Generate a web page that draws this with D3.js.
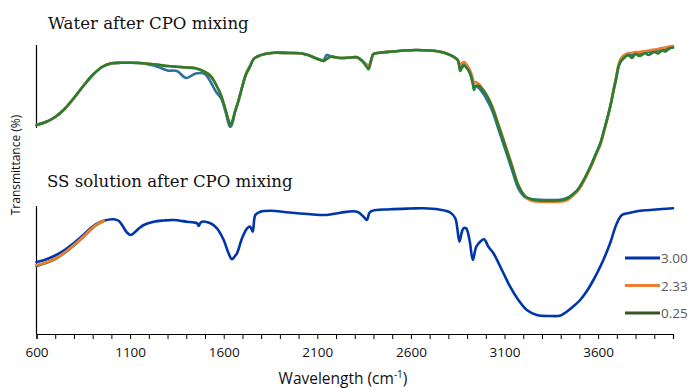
<!DOCTYPE html>
<html><head><meta charset="utf-8">
<script src="https://cdn.jsdelivr.net/npm/d3@7"></script>
<style>body{margin:0;background:#fff}svg{display:block}</style>
</head><body><svg id="c" width="691" height="388"></svg>
<script>
// ---- data (arbitrary transmittance units, offset per panel) ----
const xTicks = [600,1100,1600,2100,2600,3100,3600];
const legendLabels = ["3.00","2.33","0.25"];
const titleTop = "Water after CPO mixing";
const titleBottom = "SS solution after CPO mixing";

const upperWn = [600,650,700,750,800,850,900,950,1000,1050,1100,1150,1200,1250,1300,1350,1400,1450,1500,1530,1560,1585,1610,1625,1635,1645,1660,1680,1700,1720,1740,1760,1780,1820,1870,1950,2010,2050,2080,2110,2134,2150,2170,2220,2280,2312,2340,2360,2374,2388,2400,2450,2490,2560,2630,2700,2756,2790,2827,2850,2863,2872,2885,2899,2915,2930,2937,2945,2963,2980,2998,3033,3069,3105,3140,3176,3212,3240,3265,3318,3407,3440,3460,3490,3513,3540,3567,3590,3612,3635,3656,3670,3683,3697,3709,3722,3736,3750,3763,3780,3800,3820,3852,3870,3900,3920,3940,3960,3980,4000];
const upperGreen = [209,212,217,225,236,248,259,267,270.7,271.2,271.3,271,270.2,269.2,268,267.2,266.5,265.7,262,258,249,239,224,214,209,212,222,234,248,260,267.3,275,277.5,280,281.3,281,280.7,279,276.7,274.5,273,275,277.3,276,276.5,276.7,273,268,264.7,274,280,281.5,282.3,283.5,284,283.5,282.3,280.5,277.3,274,263,266,268.5,265.7,261,251,244,248,248,245,240.7,227.3,207.3,187.3,167.3,147.3,137.5,135,134,133.3,134,136,139,144,150.7,160,170.7,181,190.7,206,220.7,232,244,256,267.3,273,275.7,278,279,276,280,278,280.7,279,282,280.5,283.3,282.5,285.5,286.5];
const upperOrange = [209,212,217,225,236,248,259,267,270.7,271.2,271.3,271,270.2,269.2,268,267.2,266.5,265.7,262,258,249,239,224,214,209,212,222,234,248,261,268,275,277.5,280,281.3,281,280.7,279,276.7,274.5,273,275,277.3,276,276.5,276.7,273,270,268.5,274,280,281.5,282.3,283.5,284,283.5,282.3,280.5,277.3,274,269,271,272,269,264,256,251,252,250,246,241,228.5,209,189,169,148.5,137,133.5,132.5,132,132.5,134.5,137.5,142.5,149,158.5,169,179.5,189,204.5,220,232,245,258,269.5,275.5,278.5,280,281,281,282,282,283,283.5,284.5,285,286,286.5,287.5,288];
const upperBlue = [209,212,217,225,236,248,259,267,270.7,271.2,271.3,271,269.5,267,263.5,263,256,260.5,260,252,242,236,222,211,207,210,222,234,248,260,267.3,275,277.5,280,281.3,281,280.7,279,276.7,274.5,274,279,278,276,276.5,276.7,273,270,268,274,280,281.5,282.3,283.5,284,283.5,282.3,280.5,277.3,274,267,269,270.5,267,261,252,247,248,246,242,237,224,204,184,164,145,136.5,135,134.5,134,134.5,136.5,139,144,150.7,160,170.7,181,190.7,206,220.7,232,244,256,267.3,273,275.7,278,279,279,281,280.5,282,282,283,283.5,284.5,285,286,286.5];

const lowerWn = [600,650,700,750,800,850,888,920,959,1013,1040,1057,1084,1105,1128,1150,1173,1226,1280,1333,1404,1440,1458,1466,1475,1484,1529,1564,1600,1626,1644,1660,1671,1698,1725,1742,1755,1769,1796,1849,1950,2050,2150,2223,2312,2347,2365,2383,2489,2600,2667,2750,2810,2837,2859,2872,2881,2895,2913,2931,2949,2970,2991,3014,3041,3086,3130,3174,3219,3273,3344,3400,3432,3470,3504,3540,3575,3600,3628,3664,3700,3727,3771,3824,3880,3940,4000];
const lowerBlue = [72,74.5,78.5,84,91,99,105.7,110,113.3,114.7,113,109,101.3,99,102.3,106,109,112.3,113.5,114,112.3,111.5,110.7,108,111,112.3,110.7,105.7,94,80.7,74.7,78,80.7,95.7,105.7,107.3,102.3,119,122.3,123.3,121.5,120,119,121.3,122.3,117.3,114,122.3,124.7,125.5,125.7,124.5,121.5,115.7,92.3,102,105.7,105.7,94,74,87.3,92.3,94.7,87.3,80.7,64,47.3,34,24,19,18,18.5,22.3,28,34,43,54,63,74,90.7,110.7,119,121.3,123.3,124,125,125.7];
const lowerOrangeWn = [600,650,700,750,800,850,888,920,959];
const lowerOrange = [69,71.5,75.5,81.5,89,97.5,104.5,109.5,113.3];
const lowerGreen = [68,71,75,81,88.5,97,104,109,113];

// ---- layout ----
const svg = d3.select("#c");
const x = d3.scaleLinear().domain([600,4000]).range([36.5,673]);
const y = d3.scaleLinear().domain([0,290]).range([334,44]);
const line = (xs) => d3.line().x((d,i)=>x(xs[i])).y(d=>y(d)).curve(d3.curveCatmullRom.alpha(0.5));

function drawSeries(xs, vals, color, w){
  svg.append("path").datum(vals).attr("d", line(xs))
    .attr("fill","none").attr("stroke",color).attr("stroke-width",w)
    .attr("stroke-linejoin","round").attr("stroke-linecap","round");
}

// axes
const xAxis = d3.axisBottom(x).tickValues(d3.range(600,4001,100)).tickSize(5)
  .tickFormat(d => xTicks.includes(d) ? d : "");
const gx = svg.append("g").attr("transform","translate(0,334)").call(xAxis);
gx.select(".domain").attr("stroke","#000").attr("stroke-width",1.2);
gx.selectAll(".tick line").attr("stroke","#000");
gx.selectAll(".tick text").attr("font-family","Open Sans, sans-serif").attr("font-size","13.5px")
  .attr("fill","#111").attr("dy","1.1em");

svg.append("line").attr("x1",x(600)).attr("x2",x(600)).attr("y1",45).attr("y2",334)
  .attr("stroke","#000").attr("stroke-width",1.2);

// series
drawSeries(upperWn, upperBlue, "#2f6fa3", 2.6);
drawSeries(upperWn, upperOrange, "#ed7d31", 2.6);
drawSeries(upperWn, upperGreen, "#2b7d2f", 2.6);
drawSeries(lowerWn, lowerBlue, "#0035aa", 2.6);
drawSeries(lowerOrangeWn, lowerGreen, "#2b7d2f", 2.6);
drawSeries(lowerOrangeWn, lowerOrange, "#ed7d31", 2.6);

// titles (text boxes with white fill)
svg.append("rect").attr("x",30).attr("y",0).attr("width",240).attr("height",44).attr("fill","#fff");
svg.append("text").attr("x",48).attr("y",29).text(titleTop)
  .attr("font-family","DejaVu Serif, serif").attr("font-size","16.6px").attr("fill","#111");
svg.append("rect").attr("x",30).attr("y",128).attr("width",275).attr("height",78).attr("fill","#fff");
svg.append("text").attr("x",47).attr("y",187).text(titleBottom)
  .attr("font-family","DejaVu Serif, serif").attr("font-size","16.6px").attr("fill","#111");

// axis titles
const xt = svg.append("text").attr("x",343).attr("y",384).attr("text-anchor","middle")
  .attr("font-family","Open Sans, sans-serif").attr("font-size","15.5px").attr("fill","#111");
xt.append("tspan").text("Wavelength (cm");
xt.append("tspan").text("-1").attr("font-size","10px").attr("dy","-6");
xt.append("tspan").text(")").attr("dy","6");
svg.append("text").attr("transform","translate(20,165) rotate(-90)").attr("text-anchor","middle")
  .attr("font-family","Open Sans, sans-serif").attr("font-size","12px").attr("fill","#111")
  .text("Transmittance (%)");

// legend
const legColors = ["#0035aa","#ed7d31","#375623"];
legendLabels.forEach((t,i)=>{
  const ly = 258 + i*27.5;
  svg.append("line").attr("x1",625).attr("x2",660).attr("y1",ly).attr("y2",ly)
    .attr("stroke",legColors[i]).attr("stroke-width",3);
  svg.append("text").attr("x",661).attr("y",ly+5).text(t)
    .attr("font-family","Open Sans, sans-serif").attr("font-size","13.5px").attr("fill","#595959");
});
</script></body></html>
